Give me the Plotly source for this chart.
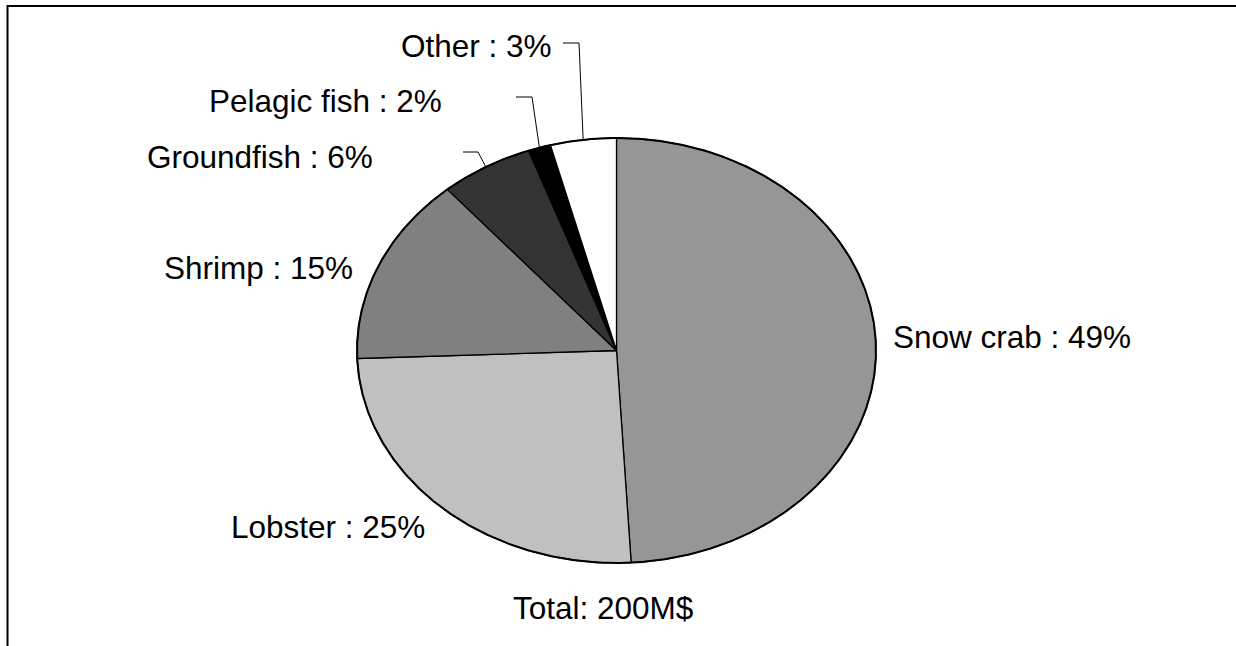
import numpy as np
import plotly.graph_objects as go

# ---- data (values in M$; total 200 M$) ----
categories = ["Snow crab", "Lobster", "Shrimp", "Groundfish", "Pelagic fish", "Other"]
values = [98.2, 50.6, 28.6, 11.6, 2.8, 8.2]
pct_labels = ["49%", "25%", "15%", "6%", "2%", "3%"]
colors = ["#969696", "#c0c0c0", "#808080", "#333333", "#000000", "#ffffff"]
total_label = "Total: 200M$"

W, H = 1236, 646
# ellipse geometry in pixels (layout)
CX, CY, RX, RY = 616.5, 350.5, 259.5, 212.5

def px2x(px):
    return (px - CX) / RX

def py2y(py):
    return (CY - py) / RY

fig = go.Figure()

vals = np.array(values, dtype=float)
frac = vals / vals.sum()
starts = np.concatenate([[0], np.cumsum(frac)[:-1]]) * 2 * np.pi
ends = np.cumsum(frac) * 2 * np.pi
mids = (starts + ends) / 2

for name, t0, t1, col in zip(categories, starts, ends, colors):
    n = max(8, int((t1 - t0) / (2 * np.pi) * 720))
    t = np.linspace(t0, t1, n)
    xs = np.concatenate([[0], np.sin(t), [0]])
    ys = np.concatenate([[0], np.cos(t), [0]])
    fig.add_trace(go.Scatter(x=xs, y=ys, fill="toself", fillcolor=col, mode="lines",
                             line=dict(color="black", width=1.3), name=name,
                             hoverinfo="name", showlegend=False))

# outer outline
tt = np.linspace(0, 2 * np.pi, 1441)
fig.add_trace(go.Scatter(x=np.sin(tt), y=np.cos(tt), mode="lines",
                         line=dict(color="black", width=2), hoverinfo="skip", showlegend=False))

font = dict(family="Liberation Sans, Arial, sans-serif", size=31.5, color="black")

# label placement (pixels): (x, y, xanchor)
label_pos = {
    "Snow crab": (891, 337, "left"),
    "Lobster": (427, 527, "right"),
    "Shrimp": (355, 268, "right"),
    "Groundfish": (375, 157, "right"),
    "Pelagic fish": (444, 101, "right"),
    "Other": (554, 46.5, "right"),
}
for name, p in zip(categories, pct_labels):
    x, y, xa = label_pos[name]
    fig.add_annotation(x=x / W, y=1 - y / H, xref="paper", yref="paper",
                       text=f"{name} : {p}", showarrow=False, xanchor=xa,
                       yanchor="middle", font=font)

fig.add_annotation(x=603.5 / W, y=1 - 608 / H, xref="paper", yref="paper",
                   text=total_label, showarrow=False, xanchor="center",
                   yanchor="middle", font=font)

# leader lines for small slices: (start px, elbow px, y px)
leaders = {
    "Groundfish": (463, 478, 152),
    "Pelagic fish": (516, 532, 97),
    "Other": (563, 579, 43),
}
for name, m in zip(categories, mids):
    if name in leaders:
        x0, xe, yl = leaders[name]
        ax, ay = np.sin(m), np.cos(m)
        fig.add_trace(go.Scatter(x=[px2x(x0), px2x(xe), ax], y=[py2y(yl), py2y(yl), ay],
                                 mode="lines", line=dict(color="black", width=1),
                                 hoverinfo="skip", showlegend=False))

# outer frame: only top and left edges visible (rest runs off the page)
fl, ft = 7.5 / W, 1 - 6 / H
fig.add_shape(type="path", xref="paper", yref="paper",
              path=f"M {fl},-0.1 L {fl},{ft} L 1.2,{ft}",
              line=dict(color="black", width=2), fillcolor="rgba(0,0,0,0)")

fig.update_xaxes(range=[px2x(0), px2x(W)], visible=False, fixedrange=True)
fig.update_yaxes(range=[py2y(H), py2y(0)], visible=False, fixedrange=True)
fig.update_layout(width=W, height=H, margin=dict(l=0, r=0, t=0, b=0),
                  paper_bgcolor="white", plot_bgcolor="white", showlegend=False)

fig.write_html("out.html", config={"displayModeBar": False},
               post_script="document.body.style.margin='0';document.body.style.overflow='hidden';")
